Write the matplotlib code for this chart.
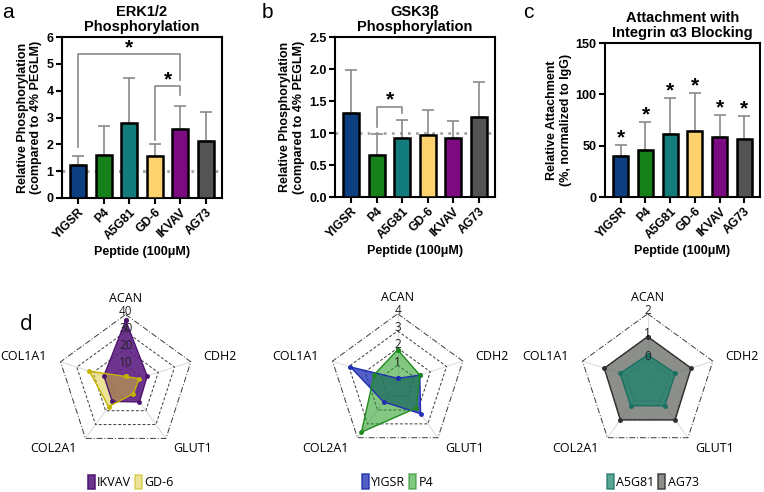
import numpy as np
import matplotlib.pyplot as plt
from matplotlib.patches import Patch

plt.rcParams['font.family'] = ['Liberation Sans', 'DejaVu Sans']

peptides = ['YIGSR', 'P4', 'A5G81', 'GD-6', 'IKVAV', 'AG73']
bar_colors = ['#0d3f80', '#16801a', '#127d7a', '#fdd26f', '#7c0a80', '#545454']

erk_mean = [1.23, 1.62, 2.79, 1.58, 2.58, 2.14]
erk_sd = [0.33, 1.08, 1.69, 0.45, 0.86, 1.07]
gsk_mean = [1.31, 0.66, 0.92, 0.97, 0.92, 1.245]
gsk_sd = [0.67, 0.32, 0.28, 0.39, 0.27, 0.545]
attach_mean = [40.0, 45.8, 61.7, 64.3, 58.1, 56.5]
attach_sd = [10.6, 26.9, 35.1, 37.0, 22.1, 22.4]

genes = ['ACAN', 'CDH2', 'GLUT1', 'COL2A1', 'COL1A1']
ikvav_expr = [36.5, 13.2, 13.7, 13.3, 13.4]
gd6_expr = [3.8, 8.2, 7.7, 17.0, 22.3]
yigsr_expr = [0.23, 1.36, 2.27, 1.41, 2.9]
p4_expr = [1.9, 1.36, 1.85, 3.6, 1.44]
a5g81_expr = [0.2, 0.27, 0.27, 0.27, 0.27]
ag73_expr = [1.0, 1.0, 1.04, 1.04, 1.0]

W, H = 764, 492
fig = plt.figure(figsize=(W / 100, H / 100), dpi=100)


def px_axes(left, top, right, bottom, **kw):
    return fig.add_axes([left / W, 1 - bottom / H, (right - left) / W, (bottom - top) / H], **kw)


def bar_panel(ax, mean, sd, ylim, yticks, yticklabels, ylabel, title):
    x = np.arange(len(peptides))
    ax.bar(x, mean, width=0.62, color=bar_colors, edgecolor='black', linewidth=1.8, zorder=3)
    ax.errorbar(x, mean, yerr=[np.zeros(len(sd)), sd], fmt='none', ecolor='#8a8a8a',
                elinewidth=1.2, capsize=4, capthick=1.2, zorder=2)
    ax.set_xlim(-0.64, 5.64)
    ax.set_ylim(*ylim)
    ax.set_yticks(yticks)
    ax.set_yticklabels(yticklabels, fontsize=9, fontweight='bold')
    ax.set_xticks(x)
    ax.set_xticklabels(peptides, rotation=45, ha='right', rotation_mode='anchor',
                       fontsize=8.7, fontweight='bold')
    for s in ax.spines.values():
        s.set_linewidth(1.5)
    ax.tick_params(width=1.5, length=4, pad=2)
    ax.set_ylabel(ylabel, fontsize=9, fontweight='bold', labelpad=3)
    ax.set_xlabel('Peptide (100\u03bcM)', fontsize=9, fontweight='bold', labelpad=3)
    ax.set_title(title, fontsize=10.5, fontweight='bold', pad=4, linespacing=1.1)


def bracket(ax, x0, x1, y0, ytop, y1, ystar):
    ax.plot([x0, x0, x1, x1], [y0, ytop, ytop, y1], color='#8a8a8a', lw=1.2, zorder=4)
    ax.text((x0 + x1) / 2, ystar, '*', ha='center', va='center', fontsize=15,
            fontweight='bold', zorder=5)


# panel a
ax_a = px_axes(62, 37, 222, 198)
ax_a.axhline(1, color='#a6a6a6', lw=2, ls=(0, (1, 1.9)), zorder=1)
bar_panel(ax_a, erk_mean, erk_sd, (0, 6), range(7), [str(v) for v in range(7)],
          'Relative Phosphorylation\n(compared to 4% PEGLM)', 'ERK1/2\nPhosphorylation')
bracket(ax_a, 0, 4, 1.9, 5.37, 4.4, 5.6)
bracket(ax_a, 3, 4, 2.17, 4.16, 3.82, 4.42)

# panel b
ax_b = px_axes(335, 37, 495, 197)
ax_b.axhline(1, color='#a6a6a6', lw=2, ls=(0, (1, 1.9)), zorder=1)
bticks = [0, 0.5, 1.0, 1.5, 2.0, 2.5]
bar_panel(ax_b, gsk_mean, gsk_sd, (0, 2.5), bticks, ['%.1f' % v for v in bticks],
          'Relative Phosphorylation\n(compared to 4% PEGLM)', 'GSK3\u03b2\nPhosphorylation')
bracket(ax_b, 1, 2, 1.10, 1.40, 1.31, 1.51)

# panel c
ax_c = px_axes(605, 43, 760, 197)
bar_panel(ax_c, attach_mean, attach_sd, (0, 150), [0, 50, 100, 150], ['0', '50', '100', '150'],
          'Relative Attachment\n(%, normalized to IgG)', 'Attachment with\nIntegrin \u03b13 Blocking')
for i in range(len(peptides)):
    ax_c.text(i, attach_mean[i] + attach_sd[i] + 7, '*', ha='center', va='center',
              fontsize=15, fontweight='bold', zorder=5)

fig.text(2 / W, 1 - 13 / H, 'a', fontsize=15, va='center')
fig.text(262 / W, 1 - 13 / H, 'b', fontsize=15, va='center')
fig.text(523 / W, 1 - 13 / H, 'c', fontsize=15, va='center')
fig.text(20 / W, 1 - 325 / H, 'd', fontsize=15, va='center', family='Open Sans')


def radar(cx, cy, vmin, vmax, levels, series, legend_order, leg_x):
    R = 68.5
    w, up, down = 250, 110, 115
    ax = px_axes(cx - w / 2, cy - up, cx + w / 2, cy + down)
    ax.set_xlim(-w / 2 / R, w / 2 / R)
    ax.set_ylim(-down / R, up / R)
    ax.axis('off')
    ang = np.deg2rad(90 - 72 * np.arange(5))
    ux, uy = np.cos(ang), np.sin(ang)
    for i in range(5):
        ax.plot([0, ux[i]], [0, uy[i]], color='#dcdcdc', lw=0.8, zorder=1)
    for lv in levels:
        r = (lv - vmin) / (vmax - vmin)
        ls = (0, (6, 2, 1, 2)) if lv == levels[-1] else (0, (3, 2))
        ax.plot(np.append(ux, ux[0]) * r, np.append(uy, uy[0]) * r, color='#3a3a3a',
                lw=0.7, ls=ls, zorder=1)
    handles = {}
    for vals, fc, ec, a, lab in series:
        r = (np.array(vals) - vmin) / (vmax - vmin)
        xs, ys = ux * r, uy * r
        ax.fill(xs, ys, facecolor=fc, alpha=a, edgecolor='none', zorder=2)
        ax.plot(np.append(xs, xs[0]), np.append(ys, ys[0]), color=ec, lw=1, marker='o',
                ms=2.5, zorder=3)
        handles[lab] = Patch(facecolor=fc, alpha=a, edgecolor=ec, lw=1.2, label=lab)
    for lv in levels:
        r = (lv - vmin) / (vmax - vmin)
        ax.text(0, r + 0.045, '%g' % lv, ha='center', va='center', fontsize=8.5,
                family='Open Sans', color='#222222', zorder=4)
    pos = [(0, 1.235, 'center'), (1.13, 0.38, 'left'), (0.70, -0.96, 'left'),
           (-0.72, -0.96, 'right'), (-1.15, 0.38, 'right')]
    for (tx, ty, ha), g in zip(pos, genes):
        ax.text(tx, ty, g, ha=ha, va='center', fontsize=9, family='Open Sans')
    ax.legend(handles=[handles[k] for k in legend_order], loc='center',
              bbox_to_anchor=(leg_x, 0.07), ncol=2, frameon=False, handlelength=0.55,
              handleheight=1.4, handletextpad=0.2, columnspacing=0.3,
              prop={'family': 'Open Sans', 'size': 9})


radar(125.7, 383, 0, 40, [10, 20, 30, 40],
      [(ikvav_expr, '#5e1f82', '#4e1570', 0.9, 'IKVAV'),
       (gd6_expr, '#d8c830', '#c4b400', 0.5, 'GD-6')], ['IKVAV', 'GD-6'], 0.52)
radar(397.7, 382.3, 0, 4, [1, 2, 3, 4],
      [(yigsr_expr, '#2838b8', '#2030b0', 0.8, 'YIGSR'),
       (p4_expr, '#1e9a1e', '#1e8a1e', 0.55, 'P4')], ['YIGSR', 'P4'], 0.5)
radar(647.7, 382.3, -1, 2, [0, 1, 2],
      [(ag73_expr, '#6e726c', '#2e2e2e', 0.8, 'AG73'),
       (a5g81_expr, '#14806a', '#1a7060', 0.7, 'A5G81')], ['A5G81', 'AG73'], 0.52)

fig.savefig('out.png', dpi=100)
